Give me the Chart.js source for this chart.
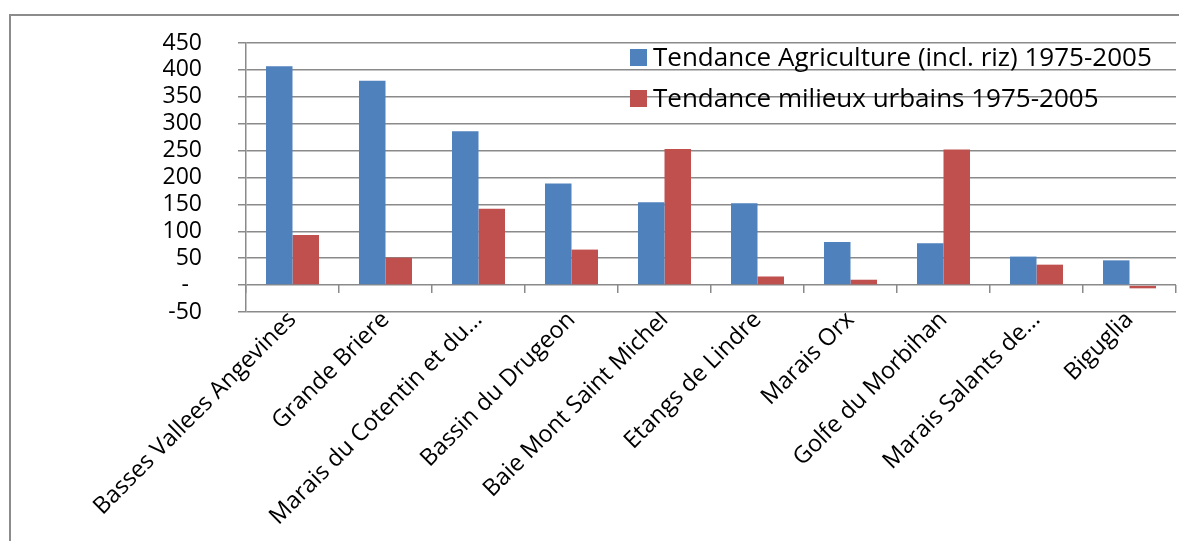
<!DOCTYPE html>
<html>
<head>
<meta charset="utf-8">
<script src="https://cdn.jsdelivr.net/npm/chart.js@4.4.1/dist/chart.umd.min.js"></script>
<style>
  html, body { margin: 0; padding: 0; background: #fff; overflow: hidden; }
  #wrap { position: relative; width: 1179px; height: 541px; }
  #frame { position: absolute; left: 9px; top: 14px; width: 1300px; height: 700px; border: 2px solid #8c8c8c; }
  #canvas { position: absolute; left: 0; top: 0; }
  #legend { position: absolute; left: 630px; top: 40px; font-family: "Open Sans", sans-serif; font-size: 26px; color: #000; }
  #legend .row { height: 41px; line-height: 32px; white-space: nowrap; }
  #legend .box { display: inline-block; width: 17px; height: 17px; vertical-align: 0px; margin-right: 6px; }
</style>
</head>
<body>
<div id="wrap">
  <div id="frame"></div>
  <canvas id="canvas" width="1179" height="541"></canvas>
  <div id="legend"></div>
</div>
<script>
// categories (labels as they appear, truncated ones included)
var sites = [
  "Basses Vallees Angevines",
  "Grande Briere",
  "Marais du Cotentin et du…",
  "Bassin du Drugeon",
  "Baie Mont Saint Michel",
  "Etangs de Lindre",
  "Marais Orx",
  "Golfe du Morbihan",
  "Marais Salants de…",
  "Biguglia"
];
var seriesNames = [
  "Tendance Agriculture (incl. riz) 1975-2005",
  "Tendance milieux urbains 1975-2005"
];
var agriculture = [407, 380, 286, 189, 154, 152, 80, 78, 53, 46];
var urbains = [93, 51, 142, 66, 253, 16, 10, 252, 38, -6];
var yTicks = [-50, 0, 50, 100, 150, 200, 250, 300, 350, 400, 450];

var gridGray = "#8a8a8a";
Chart.defaults.font.family = "'Open Sans', sans-serif";
Chart.defaults.color = "#000";

var options = {
  responsive: false,
  animation: false,
  devicePixelRatio: 1,
  layout: { padding: { top: 43, right: 3, left: 0, bottom: 0 } },
  plugins: { legend: { display: false }, tooltip: { enabled: false } },
  scales: {
    x: {
      type: 'category',
      offset: true,
      grid: { display: false, drawTicks: false },
      border: { display: false },
      ticks: {
        autoSkip: false,
        minRotation: 45,
        maxRotation: 45,
        padding: -6,
        font: { size: 23.5 }
      },
      afterFit: function(scale){ scale.height = 229; }
    },
    x0: {
      type: 'category',
      axis: 'x',
      position: { y: 0 },
      offset: true,
      grid: { offset: true, drawOnChartArea: false, tickLength: 8, color: gridGray, lineWidth: 1.5 },
      border: { display: false },
      ticks: { display: false }
    },
    y: {
      min: yTicks[0],
      max: yTicks[yTicks.length - 1],
      afterBuildTicks: function(scale){
        scale.ticks = yTicks.map(function(v){ return { value: v }; });
      },
      grid: { color: gridGray, lineWidth: 1.5, tickLength: 8 },
      border: { color: gridGray, width: 1.5 },
      ticks: {
        autoSkip: false,
        padding: 36,
        font: { size: 23 },
        callback: function(v){ return v === 0 ? "-\u2007" : v; }
      },
      afterFit: function(scale){
        scale.width = 246;
        // big label gap should not push the plot down
        scale.paddingTop = 14;
        scale.paddingBottom = 14;
      }
    }
  }
};

var chart = new Chart(document.getElementById("canvas"), {
  type: 'bar',
  data: {
    labels: sites,
    datasets: [{
      label: seriesNames[0],
      data: agriculture,
      backgroundColor: "#4F81BD",
      barPercentage: 1,
      categoryPercentage: 0.57
    }, {
      label: seriesNames[1],
      data: urbains,
      backgroundColor: "#C0504D",
      barPercentage: 1,
      categoryPercentage: 0.57
    }]
  },
  options: options
});

// legend as html, built from the datasets
var html = "";
chart.data.datasets.forEach(function(ds){
  html += "<div class='row'><span class='box' style='background:" + ds.backgroundColor + "'></span>" + ds.label + "</div>";
});
document.getElementById("legend").innerHTML = html;
</script>
</body>
</html>
